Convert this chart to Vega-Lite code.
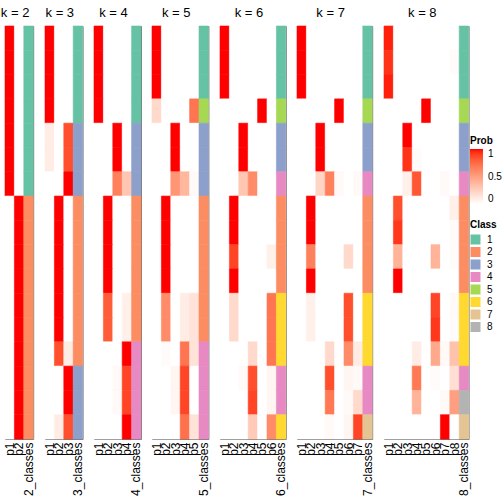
{
  "$schema": "https://vega.github.io/schema/vega-lite/v6.json",
  "autosize": "pad",
  "padding": {"left": 0, "top": 6, "right": 0, "bottom": 0},
  "spacing": 11,
  "bounds": "flush",
  "config": {
    "view": {"stroke": "#777777", "strokeWidth": 1},
    "font": "Liberation Sans",
    "title": {"fontSize": 13, "fontWeight": "normal", "font": "Liberation Sans", "offset": 6, "color": "black", "dx": -4},
    "axis": {"labelFont": "Liberation Sans", "labelColor": "black"},
    "mark": {"strokeWidth": 0.6},
    "legend": {"titleFont": "Liberation Sans", "labelFont": "Liberation Sans", "titleFontSize": 10, "labelFontSize": 10, "titleFontWeight": "bold", "titleColor": "black", "labelColor": "black"}
  },
  "resolve": {"scale": {"color": "shared", "fill": "shared", "stroke": "independent"}},
  "datasets": {
    "probs": [
      {"k":2,"row":1,"class":1,"p1":1,"p2":0},
      {"k":2,"row":2,"class":1,"p1":1,"p2":0},
      {"k":2,"row":3,"class":1,"p1":1,"p2":0},
      {"k":2,"row":4,"class":1,"p1":1,"p2":0},
      {"k":2,"row":5,"class":1,"p1":1,"p2":0},
      {"k":2,"row":6,"class":1,"p1":1,"p2":0},
      {"k":2,"row":7,"class":1,"p1":1,"p2":0},
      {"k":2,"row":8,"class":2,"p1":0,"p2":1},
      {"k":2,"row":9,"class":2,"p1":0,"p2":1},
      {"k":2,"row":10,"class":2,"p1":0,"p2":1},
      {"k":2,"row":11,"class":2,"p1":0,"p2":1},
      {"k":2,"row":12,"class":2,"p1":0,"p2":1},
      {"k":2,"row":13,"class":2,"p1":0,"p2":1},
      {"k":2,"row":14,"class":2,"p1":0,"p2":1},
      {"k":2,"row":15,"class":2,"p1":0,"p2":1},
      {"k":2,"row":16,"class":2,"p1":0,"p2":1},
      {"k":2,"row":17,"class":2,"p1":0,"p2":1},

      {"k":3,"row":1,"class":1,"p1":1,"p2":0,"p3":0},
      {"k":3,"row":2,"class":1,"p1":1,"p2":0,"p3":0},
      {"k":3,"row":3,"class":1,"p1":1,"p2":0,"p3":0},
      {"k":3,"row":4,"class":1,"p1":1,"p2":0,"p3":0},
      {"k":3,"row":5,"class":3,"p1":0.1,"p2":0,"p3":0.85},
      {"k":3,"row":6,"class":3,"p1":0.1,"p2":0,"p3":0.85},
      {"k":3,"row":7,"class":3,"p1":0,"p2":0,"p3":1},
      {"k":3,"row":8,"class":2,"p1":0,"p2":1,"p3":0},
      {"k":3,"row":9,"class":2,"p1":0,"p2":1,"p3":0},
      {"k":3,"row":10,"class":2,"p1":0,"p2":1,"p3":0},
      {"k":3,"row":11,"class":2,"p1":0,"p2":1,"p3":0},
      {"k":3,"row":12,"class":2,"p1":0,"p2":1,"p3":0},
      {"k":3,"row":13,"class":2,"p1":0,"p2":1,"p3":0},
      {"k":3,"row":14,"class":2,"p1":0,"p2":0.85,"p3":0.1},
      {"k":3,"row":15,"class":3,"p1":0,"p2":0,"p3":1},
      {"k":3,"row":16,"class":3,"p1":0,"p2":0,"p3":1},
      {"k":3,"row":17,"class":3,"p1":0,"p2":0.1,"p3":0.85},

      {"k":4,"row":1,"class":1,"p1":1,"p2":0,"p3":0,"p4":0},
      {"k":4,"row":2,"class":1,"p1":1,"p2":0,"p3":0,"p4":0},
      {"k":4,"row":3,"class":1,"p1":1,"p2":0,"p3":0,"p4":0},
      {"k":4,"row":4,"class":1,"p1":1,"p2":0,"p3":0,"p4":0},
      {"k":4,"row":5,"class":3,"p1":0,"p2":0,"p3":1,"p4":0},
      {"k":4,"row":6,"class":3,"p1":0,"p2":0,"p3":1,"p4":0},
      {"k":4,"row":7,"class":3,"p1":0,"p2":0,"p3":0.65,"p4":0.3},
      {"k":4,"row":8,"class":2,"p1":0,"p2":1,"p3":0,"p4":0},
      {"k":4,"row":9,"class":2,"p1":0,"p2":1,"p3":0,"p4":0},
      {"k":4,"row":10,"class":2,"p1":0,"p2":1,"p3":0,"p4":0},
      {"k":4,"row":11,"class":2,"p1":0,"p2":1,"p3":0,"p4":0},
      {"k":4,"row":12,"class":2,"p1":0,"p2":0.8,"p3":0,"p4":0.08},
      {"k":4,"row":13,"class":2,"p1":0,"p2":0.8,"p3":0,"p4":0.08},
      {"k":4,"row":14,"class":4,"p1":0,"p2":0,"p3":0,"p4":1},
      {"k":4,"row":15,"class":4,"p1":0,"p2":0,"p3":0.03,"p4":0.88},
      {"k":4,"row":16,"class":4,"p1":0,"p2":0,"p3":0.03,"p4":0.88},
      {"k":4,"row":17,"class":4,"p1":0,"p2":0,"p3":0,"p4":1},

      {"k":5,"row":1,"class":1,"p1":1,"p2":0,"p3":0,"p4":0,"p5":0},
      {"k":5,"row":2,"class":1,"p1":1,"p2":0,"p3":0,"p4":0,"p5":0},
      {"k":5,"row":3,"class":1,"p1":1,"p2":0,"p3":0,"p4":0,"p5":0},
      {"k":5,"row":4,"class":5,"p1":0.2,"p2":0,"p3":0,"p4":0,"p5":0.7},
      {"k":5,"row":5,"class":3,"p1":0,"p2":0,"p3":1,"p4":0,"p5":0},
      {"k":5,"row":6,"class":3,"p1":0,"p2":0,"p3":1,"p4":0,"p5":0},
      {"k":5,"row":7,"class":3,"p1":0,"p2":0,"p3":0.55,"p4":0.38,"p5":0.03},
      {"k":5,"row":8,"class":2,"p1":0,"p2":1,"p3":0,"p4":0,"p5":0},
      {"k":5,"row":9,"class":2,"p1":0,"p2":1,"p3":0,"p4":0,"p5":0},
      {"k":5,"row":10,"class":2,"p1":0,"p2":1,"p3":0,"p4":0,"p5":0},
      {"k":5,"row":11,"class":2,"p1":0,"p2":1,"p3":0,"p4":0,"p5":0},
      {"k":5,"row":12,"class":2,"p1":0,"p2":0.6,"p3":0,"p4":0.1,"p5":0.15},
      {"k":5,"row":13,"class":2,"p1":0,"p2":0.6,"p3":0,"p4":0.1,"p5":0.15},
      {"k":5,"row":14,"class":4,"p1":0,"p2":0.02,"p3":0,"p4":0.7,"p5":0.15},
      {"k":5,"row":15,"class":4,"p1":0,"p2":0,"p3":0.05,"p4":0.88,"p5":0},
      {"k":5,"row":16,"class":4,"p1":0,"p2":0,"p3":0.05,"p4":0.88,"p5":0},
      {"k":5,"row":17,"class":4,"p1":0,"p2":0,"p3":0,"p4":0.72,"p5":0.15},

      {"k":6,"row":1,"class":1,"p1":1,"p2":0,"p3":0,"p4":0,"p5":0,"p6":0},
      {"k":6,"row":2,"class":1,"p1":1,"p2":0,"p3":0,"p4":0,"p5":0,"p6":0},
      {"k":6,"row":3,"class":1,"p1":1,"p2":0,"p3":0,"p4":0,"p5":0,"p6":0},
      {"k":6,"row":4,"class":5,"p1":0,"p2":0,"p3":0,"p4":0,"p5":1,"p6":0},
      {"k":6,"row":5,"class":3,"p1":0,"p2":0,"p3":1,"p4":0,"p5":0,"p6":0},
      {"k":6,"row":6,"class":3,"p1":0,"p2":0,"p3":1,"p4":0,"p5":0,"p6":0},
      {"k":6,"row":7,"class":4,"p1":0,"p2":0,"p3":0.3,"p4":0.6,"p5":0,"p6":0},
      {"k":6,"row":8,"class":2,"p1":0,"p2":1,"p3":0,"p4":0,"p5":0,"p6":0},
      {"k":6,"row":9,"class":2,"p1":0,"p2":1,"p3":0,"p4":0,"p5":0,"p6":0},
      {"k":6,"row":10,"class":2,"p1":0,"p2":0.88,"p3":0,"p4":0,"p5":0,"p6":0.08},
      {"k":6,"row":11,"class":2,"p1":0,"p2":1,"p3":0,"p4":0,"p5":0,"p6":0},
      {"k":6,"row":12,"class":6,"p1":0,"p2":0.2,"p3":0,"p4":0,"p5":0,"p6":0.7},
      {"k":6,"row":13,"class":6,"p1":0,"p2":0.2,"p3":0,"p4":0,"p5":0,"p6":0.7},
      {"k":6,"row":14,"class":6,"p1":0,"p2":0,"p3":0,"p4":0.2,"p5":0,"p6":0.7},
      {"k":6,"row":15,"class":4,"p1":0,"p2":0,"p3":0.03,"p4":0.85,"p5":0,"p6":0.05},
      {"k":6,"row":16,"class":4,"p1":0,"p2":0,"p3":0,"p4":0.88,"p5":0,"p6":0.05},
      {"k":6,"row":17,"class":6,"p1":0,"p2":0,"p3":0,"p4":0.28,"p5":0,"p6":0.6},

      {"k":7,"row":1,"class":1,"p1":1,"p2":0,"p3":0,"p4":0,"p5":0,"p6":0,"p7":0},
      {"k":7,"row":2,"class":1,"p1":1,"p2":0,"p3":0,"p4":0,"p5":0,"p6":0,"p7":0},
      {"k":7,"row":3,"class":1,"p1":1,"p2":0,"p3":0,"p4":0,"p5":0,"p6":0,"p7":0},
      {"k":7,"row":4,"class":5,"p1":0,"p2":0,"p3":0,"p4":0,"p5":1,"p6":0,"p7":0},
      {"k":7,"row":5,"class":3,"p1":0,"p2":0,"p3":1,"p4":0,"p5":0,"p6":0,"p7":0},
      {"k":7,"row":6,"class":3,"p1":0,"p2":0,"p3":1,"p4":0,"p5":0,"p6":0,"p7":0},
      {"k":7,"row":7,"class":4,"p1":0,"p2":0,"p3":0.22,"p4":0.65,"p5":0.03,"p6":0,"p7":0.03},
      {"k":7,"row":8,"class":2,"p1":0,"p2":1,"p3":0,"p4":0,"p5":0,"p6":0,"p7":0},
      {"k":7,"row":9,"class":2,"p1":0,"p2":1,"p3":0,"p4":0,"p5":0,"p6":0,"p7":0},
      {"k":7,"row":10,"class":2,"p1":0,"p2":0.65,"p3":0,"p4":0,"p5":0,"p6":0.2,"p7":0},
      {"k":7,"row":11,"class":2,"p1":0,"p2":1,"p3":0,"p4":0,"p5":0,"p6":0,"p7":0},
      {"k":7,"row":12,"class":6,"p1":0,"p2":0.08,"p3":0,"p4":0,"p5":0,"p6":0.85,"p7":0},
      {"k":7,"row":13,"class":6,"p1":0,"p2":0.08,"p3":0,"p4":0,"p5":0,"p6":0.85,"p7":0},
      {"k":7,"row":14,"class":6,"p1":0,"p2":0,"p3":0,"p4":0.2,"p5":0,"p6":0.6,"p7":0.1},
      {"k":7,"row":15,"class":4,"p1":0,"p2":0,"p3":0,"p4":0.85,"p5":0,"p6":0.05,"p7":0.03},
      {"k":7,"row":16,"class":4,"p1":0,"p2":0,"p3":0,"p4":0.68,"p5":0,"p6":0.03,"p7":0.2},
      {"k":7,"row":17,"class":7,"p1":0,"p2":0,"p3":0,"p4":0.03,"p5":0,"p6":0.05,"p7":0.88},

      {"k":8,"row":1,"class":1,"p1":0.97,"p2":0,"p3":0,"p4":0,"p5":0,"p6":0,"p7":0,"p8":0},
      {"k":8,"row":2,"class":1,"p1":0.93,"p2":0,"p3":0,"p4":0,"p5":0,"p6":0,"p7":0,"p8":0.02},
      {"k":8,"row":3,"class":1,"p1":0.97,"p2":0,"p3":0,"p4":0,"p5":0,"p6":0,"p7":0,"p8":0},
      {"k":8,"row":4,"class":5,"p1":0,"p2":0,"p3":0,"p4":0,"p5":1,"p6":0,"p7":0,"p8":0},
      {"k":8,"row":5,"class":3,"p1":0,"p2":0,"p3":1,"p4":0,"p5":0,"p6":0,"p7":0,"p8":0},
      {"k":8,"row":6,"class":3,"p1":0,"p2":0,"p3":0.93,"p4":0.02,"p5":0,"p6":0,"p7":0,"p8":0},
      {"k":8,"row":7,"class":4,"p1":0,"p2":0,"p3":0.08,"p4":0.82,"p5":0,"p6":0,"p7":0.03,"p8":0},
      {"k":8,"row":8,"class":2,"p1":0,"p2":0.85,"p3":0,"p4":0,"p5":0,"p6":0,"p7":0,"p8":0.08},
      {"k":8,"row":9,"class":2,"p1":0,"p2":0.92,"p3":0,"p4":0,"p5":0,"p6":0,"p7":0,"p8":0.02},
      {"k":8,"row":10,"class":2,"p1":0,"p2":0.4,"p3":0,"p4":0,"p5":0,"p6":0.4,"p7":0,"p8":0.02},
      {"k":8,"row":11,"class":2,"p1":0,"p2":1,"p3":0,"p4":0,"p5":0,"p6":0,"p7":0,"p8":0},
      {"k":8,"row":12,"class":6,"p1":0,"p2":0,"p3":0,"p4":0,"p5":0,"p6":0.88,"p7":0,"p8":0.03},
      {"k":8,"row":13,"class":6,"p1":0,"p2":0,"p3":0,"p4":0,"p5":0,"p6":0.92,"p7":0,"p8":0.02},
      {"k":8,"row":14,"class":6,"p1":0,"p2":0,"p3":0,"p4":0.1,"p5":0,"p6":0.45,"p7":0.03,"p8":0.32},
      {"k":8,"row":15,"class":4,"p1":0,"p2":0,"p3":0,"p4":0.68,"p5":0,"p6":0.02,"p7":0,"p8":0.17},
      {"k":8,"row":16,"class":8,"p1":0,"p2":0,"p3":0,"p4":0.4,"p5":0,"p6":0,"p7":0.03,"p8":0.5},
      {"k":8,"row":17,"class":7,"p1":0,"p2":0,"p3":0,"p4":0,"p5":0,"p6":0,"p7":1,"p8":0}
    ]
  },
  "hconcat": [
    {
      "title": "k = 2", "width": {"step": 9.4}, "height": 413,
      "data": {"name": "probs"},
      "transform": [{"filter": "datum.k == 2"}],
      "resolve": {"scale": {"stroke": "independent"}},
      "layer": [
        {"transform": [{"fold": ["p1","p2"]}], "mark": "rect",
         "encoding": {
           "x": {"field": "key", "type": "nominal", "scale": {"domain": ["p1","p2","class"], "padding": 0}, "axis": {"title": null, "labelAngle": -90, "ticks": false, "domain": false, "labelFontSize": 12, "labelPadding": 3, "labelExpr": "datum.label == 'class' ? '2_classes' : datum.label"}},
           "y": {"field": "row", "type": "ordinal", "axis": null, "scale": {"padding": 0}},
           "color": {"field": "value", "type": "quantitative", "title": "Prob", "scale": {"domain": [0,1], "range": ["#ffffff","#ff0000"], "interpolate": "lab"}, "legend": {"orient": "none", "legendX": 465, "legendY": 110, "values": [0,0.5,1], "format": ".1~f", "gradientLength": 55, "gradientThickness": 13, "titlePadding": 3, "labelOffset": 5}},
           "stroke": {"field": "value", "type": "quantitative", "scale": {"domain": [0,1], "range": ["#ffffff","#ff0000"], "interpolate": "lab"}, "legend": null}
         }},
        {"transform": [{"fold": ["class"]}], "mark": "rect",
         "encoding": {
           "x": {"field": "key", "type": "nominal"},
           "y": {"field": "row", "type": "ordinal"},
           "fill": {"field": "value", "type": "nominal", "title": "Class", "scale": {"domain": [1,2,3,4,5,6,7,8], "range": ["#66C2A5","#FC8D62","#8DA0CB","#E78AC3","#A6D854","#FFD92F","#E5C494","#B3B3B3"]}, "legend": {"orient": "none", "legendX": 465, "legendY": 194, "symbolType": "square", "symbolSize": 100, "symbolStrokeWidth": 0, "rowPadding": 1.5, "titlePadding": 4, "labelOffset": 6}},
           "stroke": {"field": "value", "type": "nominal", "scale": {"domain": [1,2,3,4,5,6,7,8], "range": ["#66C2A5","#FC8D62","#8DA0CB","#E78AC3","#A6D854","#FFD92F","#E5C494","#B3B3B3"]}, "legend": null}
         }}
      ]
    },
    {
      "title": "k = 3", "width": {"step": 9.4}, "height": 413,
      "data": {"name": "probs"},
      "transform": [{"filter": "datum.k == 3"}],
      "resolve": {"scale": {"stroke": "independent"}},
      "layer": [
        {"transform": [{"fold": ["p1","p2","p3"]}], "mark": "rect",
         "encoding": {
           "x": {"field": "key", "type": "nominal", "scale": {"domain": ["p1","p2","p3","class"], "padding": 0}, "axis": {"title": null, "labelAngle": -90, "ticks": false, "domain": false, "labelFontSize": 12, "labelPadding": 3, "labelExpr": "datum.label == 'class' ? '3_classes' : datum.label"}},
           "y": {"field": "row", "type": "ordinal", "axis": null, "scale": {"padding": 0}},
           "color": {"field": "value", "type": "quantitative", "title": "Prob"},
           "stroke": {"field": "value", "type": "quantitative", "scale": {"domain": [0,1], "range": ["#ffffff","#ff0000"], "interpolate": "lab"}, "legend": null}
         }},
        {"transform": [{"fold": ["class"]}], "mark": "rect",
         "encoding": {
           "x": {"field": "key", "type": "nominal"},
           "y": {"field": "row", "type": "ordinal"},
           "fill": {"field": "value", "type": "nominal", "title": "Class"},
           "stroke": {"field": "value", "type": "nominal", "scale": {"domain": [1,2,3,4,5,6,7,8], "range": ["#66C2A5","#FC8D62","#8DA0CB","#E78AC3","#A6D854","#FFD92F","#E5C494","#B3B3B3"]}, "legend": null}
         }}
      ]
    },
    {
      "title": "k = 4", "width": {"step": 9.4}, "height": 413,
      "data": {"name": "probs"},
      "transform": [{"filter": "datum.k == 4"}],
      "resolve": {"scale": {"stroke": "independent"}},
      "layer": [
        {"transform": [{"fold": ["p1","p2","p3","p4"]}], "mark": "rect",
         "encoding": {
           "x": {"field": "key", "type": "nominal", "scale": {"domain": ["p1","p2","p3","p4","class"], "padding": 0}, "axis": {"title": null, "labelAngle": -90, "ticks": false, "domain": false, "labelFontSize": 12, "labelPadding": 3, "labelExpr": "datum.label == 'class' ? '4_classes' : datum.label"}},
           "y": {"field": "row", "type": "ordinal", "axis": null, "scale": {"padding": 0}},
           "color": {"field": "value", "type": "quantitative", "title": "Prob"},
           "stroke": {"field": "value", "type": "quantitative", "scale": {"domain": [0,1], "range": ["#ffffff","#ff0000"], "interpolate": "lab"}, "legend": null}
         }},
        {"transform": [{"fold": ["class"]}], "mark": "rect",
         "encoding": {
           "x": {"field": "key", "type": "nominal"},
           "y": {"field": "row", "type": "ordinal"},
           "fill": {"field": "value", "type": "nominal", "title": "Class"},
           "stroke": {"field": "value", "type": "nominal", "scale": {"domain": [1,2,3,4,5,6,7,8], "range": ["#66C2A5","#FC8D62","#8DA0CB","#E78AC3","#A6D854","#FFD92F","#E5C494","#B3B3B3"]}, "legend": null}
         }}
      ]
    },
    {
      "title": "k = 5", "width": {"step": 9.4}, "height": 413,
      "data": {"name": "probs"},
      "transform": [{"filter": "datum.k == 5"}],
      "resolve": {"scale": {"stroke": "independent"}},
      "layer": [
        {"transform": [{"fold": ["p1","p2","p3","p4","p5"]}], "mark": "rect",
         "encoding": {
           "x": {"field": "key", "type": "nominal", "scale": {"domain": ["p1","p2","p3","p4","p5","class"], "padding": 0}, "axis": {"title": null, "labelAngle": -90, "ticks": false, "domain": false, "labelFontSize": 12, "labelPadding": 3, "labelExpr": "datum.label == 'class' ? '5_classes' : datum.label"}},
           "y": {"field": "row", "type": "ordinal", "axis": null, "scale": {"padding": 0}},
           "color": {"field": "value", "type": "quantitative", "title": "Prob"},
           "stroke": {"field": "value", "type": "quantitative", "scale": {"domain": [0,1], "range": ["#ffffff","#ff0000"], "interpolate": "lab"}, "legend": null}
         }},
        {"transform": [{"fold": ["class"]}], "mark": "rect",
         "encoding": {
           "x": {"field": "key", "type": "nominal"},
           "y": {"field": "row", "type": "ordinal"},
           "fill": {"field": "value", "type": "nominal", "title": "Class"},
           "stroke": {"field": "value", "type": "nominal", "scale": {"domain": [1,2,3,4,5,6,7,8], "range": ["#66C2A5","#FC8D62","#8DA0CB","#E78AC3","#A6D854","#FFD92F","#E5C494","#B3B3B3"]}, "legend": null}
         }}
      ]
    },
    {
      "title": "k = 6", "width": {"step": 9.4}, "height": 413,
      "data": {"name": "probs"},
      "transform": [{"filter": "datum.k == 6"}],
      "resolve": {"scale": {"stroke": "independent"}},
      "layer": [
        {"transform": [{"fold": ["p1","p2","p3","p4","p5","p6"]}], "mark": "rect",
         "encoding": {
           "x": {"field": "key", "type": "nominal", "scale": {"domain": ["p1","p2","p3","p4","p5","p6","class"], "padding": 0}, "axis": {"title": null, "labelAngle": -90, "ticks": false, "domain": false, "labelFontSize": 12, "labelPadding": 3, "labelExpr": "datum.label == 'class' ? '6_classes' : datum.label"}},
           "y": {"field": "row", "type": "ordinal", "axis": null, "scale": {"padding": 0}},
           "color": {"field": "value", "type": "quantitative", "title": "Prob"},
           "stroke": {"field": "value", "type": "quantitative", "scale": {"domain": [0,1], "range": ["#ffffff","#ff0000"], "interpolate": "lab"}, "legend": null}
         }},
        {"transform": [{"fold": ["class"]}], "mark": "rect",
         "encoding": {
           "x": {"field": "key", "type": "nominal"},
           "y": {"field": "row", "type": "ordinal"},
           "fill": {"field": "value", "type": "nominal", "title": "Class"},
           "stroke": {"field": "value", "type": "nominal", "scale": {"domain": [1,2,3,4,5,6,7,8], "range": ["#66C2A5","#FC8D62","#8DA0CB","#E78AC3","#A6D854","#FFD92F","#E5C494","#B3B3B3"]}, "legend": null}
         }}
      ]
    },
    {
      "title": "k = 7", "width": {"step": 9.4}, "height": 413,
      "data": {"name": "probs"},
      "transform": [{"filter": "datum.k == 7"}],
      "resolve": {"scale": {"stroke": "independent"}},
      "layer": [
        {"transform": [{"fold": ["p1","p2","p3","p4","p5","p6","p7"]}], "mark": "rect",
         "encoding": {
           "x": {"field": "key", "type": "nominal", "scale": {"domain": ["p1","p2","p3","p4","p5","p6","p7","class"], "padding": 0}, "axis": {"title": null, "labelAngle": -90, "ticks": false, "domain": false, "labelFontSize": 12, "labelPadding": 3, "labelExpr": "datum.label == 'class' ? '7_classes' : datum.label"}},
           "y": {"field": "row", "type": "ordinal", "axis": null, "scale": {"padding": 0}},
           "color": {"field": "value", "type": "quantitative", "title": "Prob"},
           "stroke": {"field": "value", "type": "quantitative", "scale": {"domain": [0,1], "range": ["#ffffff","#ff0000"], "interpolate": "lab"}, "legend": null}
         }},
        {"transform": [{"fold": ["class"]}], "mark": "rect",
         "encoding": {
           "x": {"field": "key", "type": "nominal"},
           "y": {"field": "row", "type": "ordinal"},
           "fill": {"field": "value", "type": "nominal", "title": "Class"},
           "stroke": {"field": "value", "type": "nominal", "scale": {"domain": [1,2,3,4,5,6,7,8], "range": ["#66C2A5","#FC8D62","#8DA0CB","#E78AC3","#A6D854","#FFD92F","#E5C494","#B3B3B3"]}, "legend": null}
         }}
      ]
    },
    {
      "title": "k = 8", "width": {"step": 9.4}, "height": 413,
      "data": {"name": "probs"},
      "transform": [{"filter": "datum.k == 8"}],
      "resolve": {"scale": {"stroke": "independent"}},
      "layer": [
        {"transform": [{"fold": ["p1","p2","p3","p4","p5","p6","p7","p8"]}], "mark": "rect",
         "encoding": {
           "x": {"field": "key", "type": "nominal", "scale": {"domain": ["p1","p2","p3","p4","p5","p6","p7","p8","class"], "padding": 0}, "axis": {"title": null, "labelAngle": -90, "ticks": false, "domain": false, "labelFontSize": 12, "labelPadding": 3, "labelExpr": "datum.label == 'class' ? '8_classes' : datum.label"}},
           "y": {"field": "row", "type": "ordinal", "axis": null, "scale": {"padding": 0}},
           "color": {"field": "value", "type": "quantitative", "title": "Prob"},
           "stroke": {"field": "value", "type": "quantitative", "scale": {"domain": [0,1], "range": ["#ffffff","#ff0000"], "interpolate": "lab"}, "legend": null}
         }},
        {"transform": [{"fold": ["class"]}], "mark": "rect",
         "encoding": {
           "x": {"field": "key", "type": "nominal"},
           "y": {"field": "row", "type": "ordinal"},
           "fill": {"field": "value", "type": "nominal", "title": "Class"},
           "stroke": {"field": "value", "type": "nominal", "scale": {"domain": [1,2,3,4,5,6,7,8], "range": ["#66C2A5","#FC8D62","#8DA0CB","#E78AC3","#A6D854","#FFD92F","#E5C494","#B3B3B3"]}, "legend": null}
         }}
      ]
    }
  ]
}
